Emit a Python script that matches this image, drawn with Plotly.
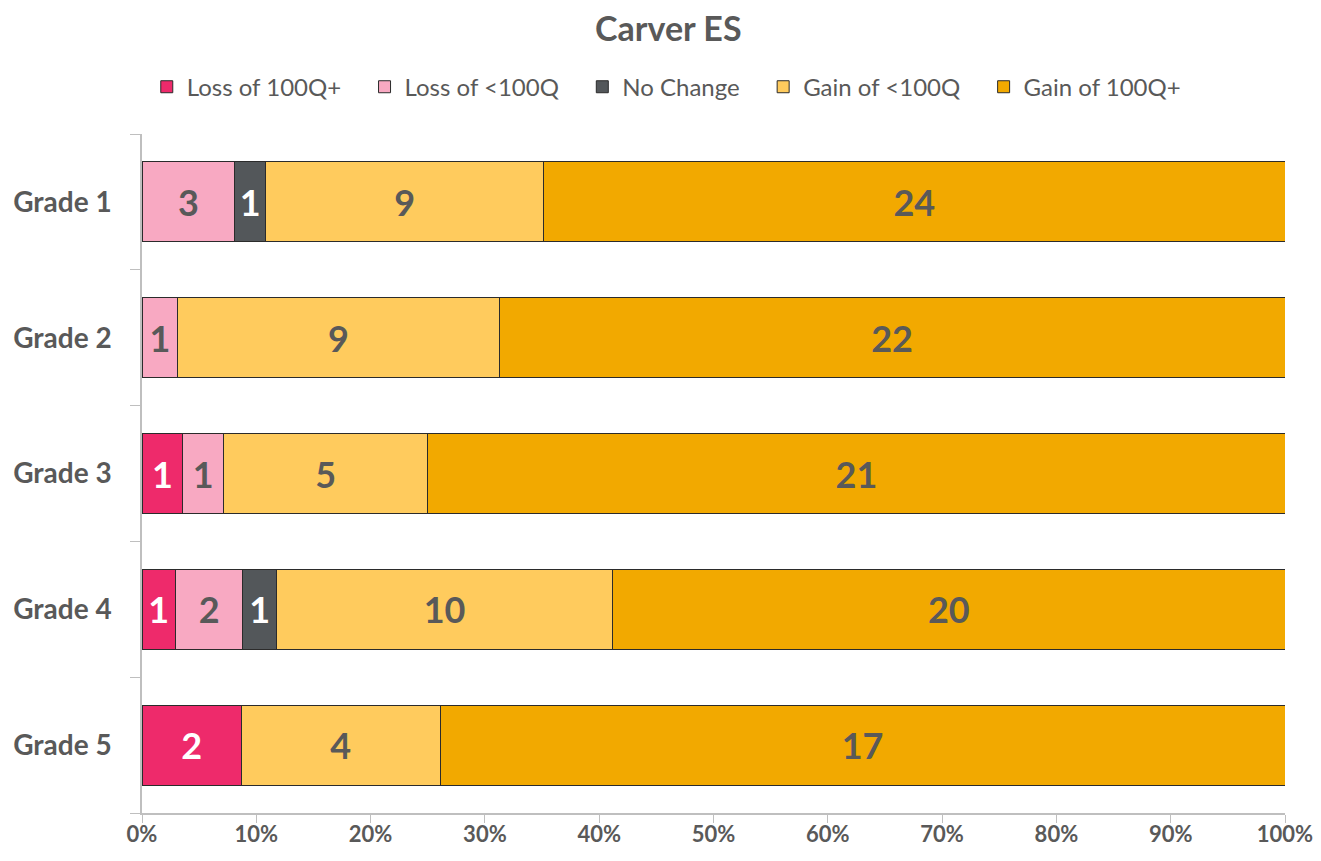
import plotly.graph_objects as go

grades = ["Grade 1", "Grade 2", "Grade 3", "Grade 4", "Grade 5"]
series_names = ["Loss of 100Q+", "Loss of <100Q", "No Change", "Gain of <100Q", "Gain of 100Q+"]
loss_100_plus = [0, 0, 1, 1, 2]
loss_lt_100 = [3, 1, 1, 2, 0]
no_change = [1, 0, 0, 1, 0]
gain_lt_100 = [9, 9, 5, 10, 4]
gain_100_plus = [24, 22, 21, 20, 17]

series_values = [loss_100_plus, loss_lt_100, no_change, gain_lt_100, gain_100_plus]
colors = ["#EE2A6B", "#F8A9C2", "#53575A", "#FFCB5D", "#F2A900"]
text_colors = ["white", "#595959", "white", "#595959", "#595959"]
tick_labels = [f"{v}%" for v in range(0, 101, 10)]

FONT = "Lato"
GRAY = "#595959"
PAD = "\u00a0\u00a0\u00a0"

fig = go.Figure()
for name, vals, col, tcol in zip(series_names, series_values, colors, text_colors):
    fig.add_trace(go.Bar(
        y=grades,
        x=vals,
        name=name + PAD,
        orientation="h",
        marker=dict(color=col, line=dict(color="#2b2b2b", width=1)),
        text=[str(v) if v > 0 else "" for v in vals],
        textposition="inside",
        insidetextanchor="middle",
        textangle=0,
        insidetextfont=dict(family=FONT, size=36, color=tcol, weight="bold"),
    ))

# page body adds an 8px margin, so the figure is sized to fit the window
fig.update_layout(
    barmode="stack",
    barnorm="percent",
    bargap=0.41,
    width=1305,
    height=845,
    paper_bgcolor="white",
    plot_bgcolor="white",
    margin=dict(l=134, r=28, t=126, b=40),
    font=dict(family=FONT, color=GRAY),
    title=dict(
        text="<b>Carver ES</b>",
        x=0.506, xanchor="center", xref="container",
        y=0.975, yanchor="middle", yref="container",
        font=dict(family=FONT, size=34, color=GRAY),
    ),
    legend=dict(
        orientation="h",
        x=0.467, xanchor="center",
        y=1.069, yanchor="middle",
        font=dict(family=FONT, size=24, color=GRAY),
        traceorder="normal",
        itemwidth=30,
    ),
    xaxis=dict(
        range=[0, 100],
        tickvals=list(range(0, 101, 10)),
        ticktext=tick_labels,
        showgrid=False,
        zeroline=False,
        showline=True,
        linecolor="#BFBFBF",
        linewidth=1.5,
        ticks="outside",
        ticklen=8,
        tickcolor="#BFBFBF",
        ticklabelstandoff=-7,
        ticklabeloverflow="allow",
        automargin=False,
        tickfont=dict(family=FONT, size=22, color=GRAY, weight="bold"),
    ),
    yaxis=dict(
        categoryorder="array",
        categoryarray=grades[::-1],
        showgrid=False,
        showline=True,
        linecolor="#BFBFBF",
        linewidth=1.5,
        ticks="outside",
        tickson="boundaries",
        ticklen=10,
        tickcolor="#BFBFBF",
        ticklabelstandoff=23,
        automargin=False,
        tickfont=dict(family=FONT, size=28, color=GRAY, weight="bold"),
    ),
)

fig.write_html("out.html")
